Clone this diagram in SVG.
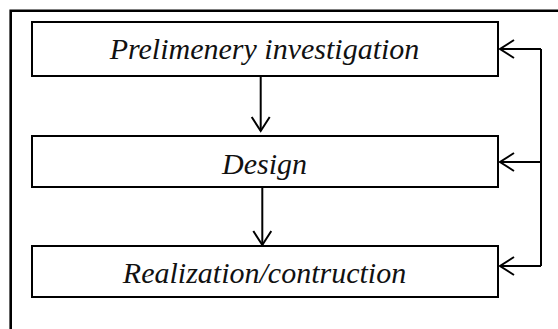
<svg xmlns="http://www.w3.org/2000/svg" width="558" height="329" viewBox="0 0 558 329">
<style>
.box{fill:#fff;stroke:#000;stroke-width:2}
.lbl{font-family:"Liberation Serif","Times New Roman",serif;font-style:italic;font-size:30px;fill:#111;text-anchor:middle}
.con{fill:none;stroke:#000;stroke-width:2}
</style>
<defs>
<marker id="ah" markerWidth="20" markerHeight="24" refX="15" refY="10" orient="auto" markerUnits="userSpaceOnUse">
<path d="M1,1 L15,10 L1,19" fill="none" stroke="#000" stroke-width="2"/>
</marker>
</defs>
<rect width="558" height="329" fill="#fff"/>
<path d="M10.7,329 V10.7 H558" fill="none" stroke="#000" stroke-width="2.6"/>
<g id="n1"><rect class="box" x="32" y="22" width="466" height="54"/><text class="lbl" x="264.5" y="59">Prelimenery investigation</text></g>
<g id="n2"><rect class="box" x="32" y="136" width="466" height="51"/><text class="lbl" x="264.5" y="174">Design</text></g>
<g id="n3"><rect class="box" x="32" y="246" width="466" height="51"/><text class="lbl" x="264.5" y="283">Realization/contruction</text></g>
<g id="connectors">
<path class="con" d="M260.7,76 V131" marker-end="url(#ah)"/>
<path class="con" d="M262.3,187 V245" marker-end="url(#ah)"/>
<path class="con" d="M541,49 V266"/>
<path class="con" d="M541,49 H500" marker-end="url(#ah)"/>
<path class="con" d="M541,162 H500" marker-end="url(#ah)"/>
<path class="con" d="M541,266 H500" marker-end="url(#ah)"/>
</g>
</svg>
